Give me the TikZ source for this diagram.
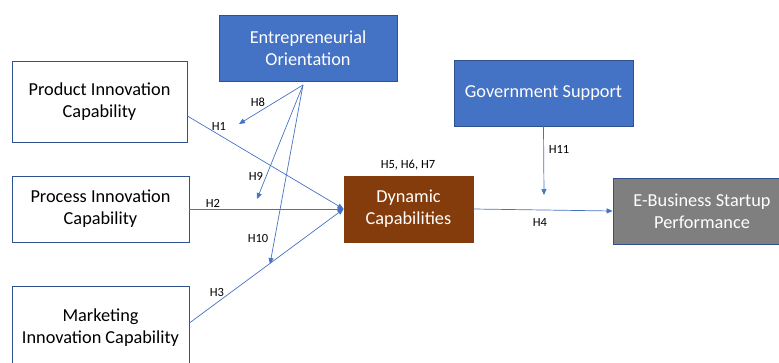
\documentclass[tikz,border=0pt]{standalone}
\usepackage{fontspec}
\setmainfont{Carlito}
\usepackage{xcolor}
\usetikzlibrary{arrows.meta, calc}

\definecolor{boxblue}{HTML}{4472C4}
\definecolor{edgeblue}{HTML}{2F528F}
\definecolor{dynbrown}{HTML}{843C0C}
\definecolor{perfgray}{HTML}{7F7F7F}

\begin{document}
\begin{tikzpicture}[x=1pt, y=-1pt,
  construct/.style={draw=edgeblue, line width=0.8pt, fill=white, align=center, inner sep=0pt,
    font=\fontsize{18.3}{22}\selectfont},
  moderator/.style={construct, fill=boxblue, text=white},
  hpath/.style={-{Triangle[length=6pt, width=5pt]}, draw=boxblue, line width=0.7pt},
  hyp/.style={font=\fontsize{12.5}{14}\selectfont}
]
  \useasboundingbox (0,0) rectangle (779,363);

  % Independent constructs on the left
  \node[construct, minimum width=175, minimum height=81] (prod) at (99.5,101.5) {Product Innovation\\Capability};
  \node[construct, minimum width=177, minimum height=66] (proc) at (100.5,209) {Process Innovation\\Capability};
  \node[construct, minimum width=177, minimum height=84] (mark) at (100.5,328) {Marketing\\Innovation Capability};

  % Moderators
  \node[moderator, minimum width=178, minimum height=66] (eo) at (308,48) {Entrepreneurial\\Orientation};
  \node[moderator, minimum width=179, minimum height=66] (gov) at (543.5,93) {Government Support};

  % Mediator and outcome
  \node[construct, draw=dynbrown, fill=dynbrown, text=white, minimum width=129, minimum height=66] (dyn) at (408.5,209) {Dynamic\\Capabilities};
  \node[construct, fill=perfgray, text=white, minimum width=178, minimum height=66] (perf) at (702,211) {E-Business Startup\\Performance};

  % Free ends of the moderating arrows
  \coordinate (eoout) at (303,85);
  \coordinate (h8end) at (239,124);
  \coordinate (h9end) at (257,199);
  \coordinate (h10end) at (270,264);
  \coordinate (h11end) at (544,195);

  % Direct paths
  \draw[hpath] ($(prod.east)+(0,14.5)$) -- (dyn.west);
  \draw[hpath] (proc.east) -- (dyn.west);
  \draw[hpath] ($(mark.east)+(0,-5)$) -- (dyn.west);
  \draw[hpath] (dyn.east) -- (perf.west);

  % Moderating paths
  \draw[hpath] (eoout) -- (h8end);
  \draw[hpath] (eoout) -- (h9end);
  \draw[hpath] (eoout) -- (h10end);
  \draw[hpath] (gov.south) -- (h11end);

  % Hypothesis labels
  \node[hyp] (h1) at (219,126) {H1};
  \node[hyp] (h2) at (213,203) {H2};
  \node[hyp] (h3) at (217,292) {H3};
  \node[hyp] (h4) at (540,222) {H4};
  \node[hyp] (h567) at (408,165) {H5, H6, H7};
  \node[hyp] (h8) at (258,102) {H8};
  \node[hyp] (h9) at (256,176) {H9};
  \node[hyp] (h10) at (258,238) {H10};
  \node[hyp] (h11) at (559,149) {H11};
\end{tikzpicture}
\end{document}
